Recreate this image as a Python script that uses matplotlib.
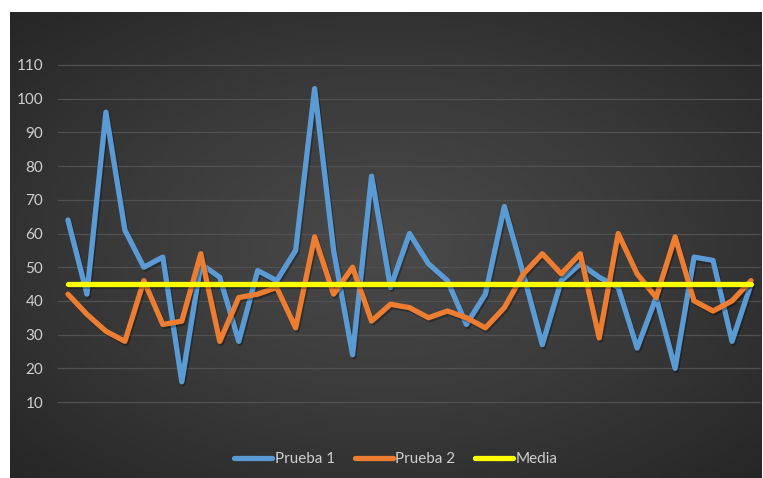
import numpy as np
import matplotlib
matplotlib.use("Agg")
import matplotlib.pyplot as plt
import matplotlib.patheffects as pe
from matplotlib.colors import LinearSegmentedColormap

plt.rcParams['font.family'] = ['Lato', 'DejaVu Sans']

# data
prueba1 = [64, 42, 96, 61, 50, 53, 16, 51, 47, 28, 49, 46, 55, 103, 55, 24, 77, 44, 60,
           51, 46, 33, 42, 68, 48, 27, 46, 51, 47, 44, 26, 41, 20, 53, 52, 28, 45]
prueba2 = [42, 36, 31, 28, 46, 33, 34, 54, 28, 41, 42, 44, 32, 59, 42, 50, 34, 39, 38,
           35, 37, 35, 32, 38, 48, 54, 48, 54, 29, 60, 48, 41, 59, 40, 37, 40, 46]
media_val = 45
media = [media_val] * len(prueba1)
yticks = [10, 20, 30, 40, 50, 60, 70, 80, 90, 100, 110]

W, H = 763, 478
fig = plt.figure(figsize=(W / 100, H / 100), dpi=100)
fig.patch.set_facecolor('white')

# dark background with radial gradient
bg = fig.add_axes([10 / W, 0, (W - 11) / W, (H - 12) / H])
bg.set_axis_off()
yy, xx = np.mgrid[-1:1:300j, -1:1:480j]
r = np.sqrt(xx ** 2 + yy ** 2) / np.sqrt(2)
cmap = LinearSegmentedColormap.from_list('bg', ['#4a4a4a', '#3a3a3a', '#262626'])
bg.imshow(r, cmap=cmap, aspect='auto', extent=[0, 1, 0, 1], vmin=0, vmax=1)

x0, x1 = 58.5, 760.5
y0, y1 = 435.7, 31.3
ax = fig.add_axes([x0 / W, (H - y0) / H, (x1 - x0) / W, (y0 - y1) / H])
ax.patch.set_alpha(0)

x = np.arange(len(prueba1))
shadow = [pe.SimpleLineShadow(offset=(1.0, -1.5), shadow_color='black', alpha=0.3), pe.Normal()]
ax.plot(x, prueba1, color='#5b9bd5', lw=3.8, label='Prueba 1', path_effects=shadow,
        solid_joinstyle='round', solid_capstyle='round')
ax.plot(x, prueba2, color='#ed7d31', lw=3.8, label='Prueba 2', path_effects=shadow,
        solid_joinstyle='round', solid_capstyle='round')
ax.plot(x, media, color='#ffff00', lw=3.8, label='Media', path_effects=shadow,
        solid_capstyle='round')

ax.set_xlim(-0.5, len(prueba1) - 0.5)
ax.set_ylim(0, 120)
ax.set_yticks(yticks)
ax.set_xticks([])
ax.grid(axis='y', color='#515151', lw=0.9)
ax.set_axisbelow(True)
ax.tick_params(axis='y', length=0, pad=11, labelsize=11, labelcolor='#cfcfcf')
for s in ax.spines.values():
    s.set_visible(False)

leg = fig.legend(loc='center', bbox_to_anchor=(396 / W, (H - 459) / H), ncol=3,
                 frameon=False, fontsize=11, handlelength=2.5, handletextpad=0.15,
                 columnspacing=1.3)
for t in leg.get_texts():
    t.set_color('#cfcfcf')
for h in leg.get_lines():
    h.set_path_effects([])
    h.set_linewidth(3.8)

fig.savefig('out.png', dpi=100)
